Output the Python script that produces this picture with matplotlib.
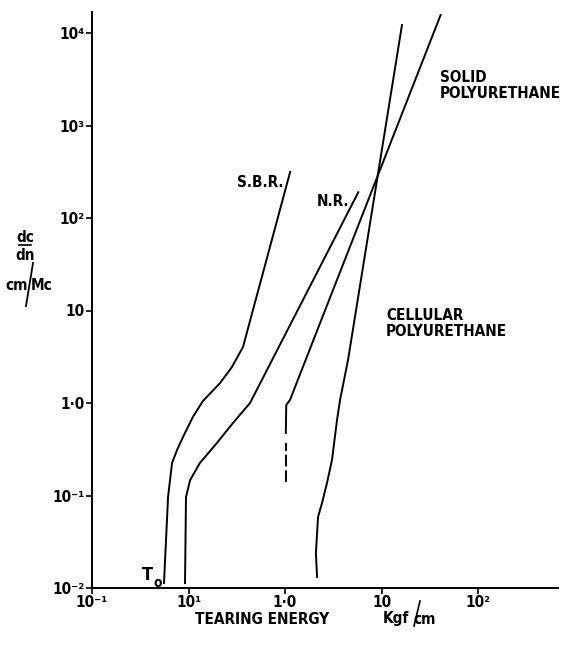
import numpy as np
import matplotlib
matplotlib.use("Agg")
import matplotlib.pyplot as plt
from matplotlib.lines import Line2D

plt.rcParams['font.family'] = ['DejaVu Sans']
plt.rcParams['font.stretch'] = 'condensed'
plt.rcParams['font.weight'] = 'bold'

# ---- data ----
sbr_x = [0.0557, 0.0585, 0.0614, 0.0675, 0.076, 0.0877, 0.111, 0.141, 0.212, 0.282, 0.367, 1.13]
sbr_y = [0.0113, 0.033, 0.0964, 0.224, 0.31, 0.429, 0.706, 1.05, 1.64, 2.45, 4.03, 314]

nr_x = [0.092, 0.0942, 0.104, 0.131, 0.197, 0.289, 0.434, 5.75]
nr_y = [0.0113, 0.0964, 0.147, 0.224, 0.37, 0.608, 1.0, 190]

cell_dash_x = [1.02, 1.02]
cell_dash_y = [0.14, 0.37]
cell_x = [1.02, 1.03, 1.127, 41.0]
cell_y = [0.474, 0.95, 1.08, 15670]

steep_x = [2.15, 2.09, 2.20, 2.42, 2.72, 3.07, 3.46, 3.72, 4.50, 16.3]
steep_y = [0.01315, 0.0239, 0.0586, 0.083, 0.136, 0.242, 0.655, 1.08, 2.92, 12190]

xticks = [0.01, 0.1, 1, 10, 100]
xtick_labels = ['10⁻¹', '10¹', '1·0', '10', '10²']
yticks = [0.01, 0.1, 1, 10, 100, 1000, 10000]
ytick_labels = ['10⁻²', '10⁻¹', '1·0', '10', '10²', '10³', '10⁴']

W, H = 561, 646
fig = plt.figure(figsize=(W / 100, H / 100), dpi=100)
L, R, B, T = 92, 558, 588, 12
ax = fig.add_axes([L / W, 1 - B / H, (R - L) / W, (B - T) / H])
ax.set_xscale('log')
ax.set_yscale('log')
ax.set_xlim(0.01, 10 ** ((R - L) / 96.5 - 2))
ax.set_ylim(0.01, 10 ** ((B - T) / 92.5 - 2))
for s in ['top', 'right']:
    ax.spines[s].set_visible(False)
for s in ['left', 'bottom']:
    ax.spines[s].set_linewidth(1.4)
ax.set_xticks(xticks)
ax.set_xticklabels(xtick_labels)
ax.set_yticks(yticks)
ax.set_yticklabels(ytick_labels)
ax.minorticks_off()
ax.tick_params(axis='both', direction='out', length=4, width=1.2, labelsize=11, pad=1)

lw = 1.4
ax.plot(sbr_x, sbr_y, color='black', lw=lw)
ax.plot(nr_x, nr_y, color='black', lw=lw)
ax.plot(cell_x, cell_y, color='black', lw=lw)
ax.plot(cell_dash_x, cell_dash_y, color='black', lw=lw, dashes=(6, 2))
ax.plot(steep_x, steep_y, color='black', lw=lw)


def ftext(x, y, s, **kw):
    kw.setdefault('fontsize', 11)
    kw.setdefault('fontweight', 'bold')
    kw.setdefault('fontstretch', 'condensed')
    fig.text(x / W, 1 - y / H, s, **kw)


ftext(284, 183, 'S.B.R.', ha='right', va='center')
ftext(349, 201, 'N.R.', ha='right', va='center')
ftext(440, 78, 'SOLID', ha='left', va='center')
ftext(440, 94, 'POLYURETHANE', ha='left', va='center')
ftext(386, 315, 'CELLULAR', ha='left', va='center')
ftext(386, 331, 'POLYURETHANE', ha='left', va='center')
ftext(142, 575, 'T', ha='left', va='center', fontsize=13)
ftext(153, 583, 'o', ha='left', va='center', fontsize=10)

# y-axis label
ftext(25, 237, 'dc', ha='center', va='center')
fig.add_artist(Line2D([19 / W, 31 / W], [1 - 245 / H, 1 - 245 / H], color='black', lw=1.2))
ftext(25, 255, 'dn', ha='center', va='center')
ftext(17, 285, 'cm', ha='center', va='center')
ftext(42, 285, 'Mc', ha='center', va='center')
fig.add_artist(Line2D([33 / W, 26 / W], [1 - 263 / H, 1 - 306 / H], color='black', lw=1.3))

# x-axis label
ftext(262, 619, 'TEARING ENERGY', ha='center', va='center')
ftext(396, 619, 'Kgf', ha='center', va='center')
ftext(425, 620, 'cm', ha='center', va='center')
fig.add_artist(Line2D([420 / W, 414 / W], [1 - 601 / H, 1 - 626 / H], color='black', lw=1.2))

fig.savefig('out.png', dpi=100)
